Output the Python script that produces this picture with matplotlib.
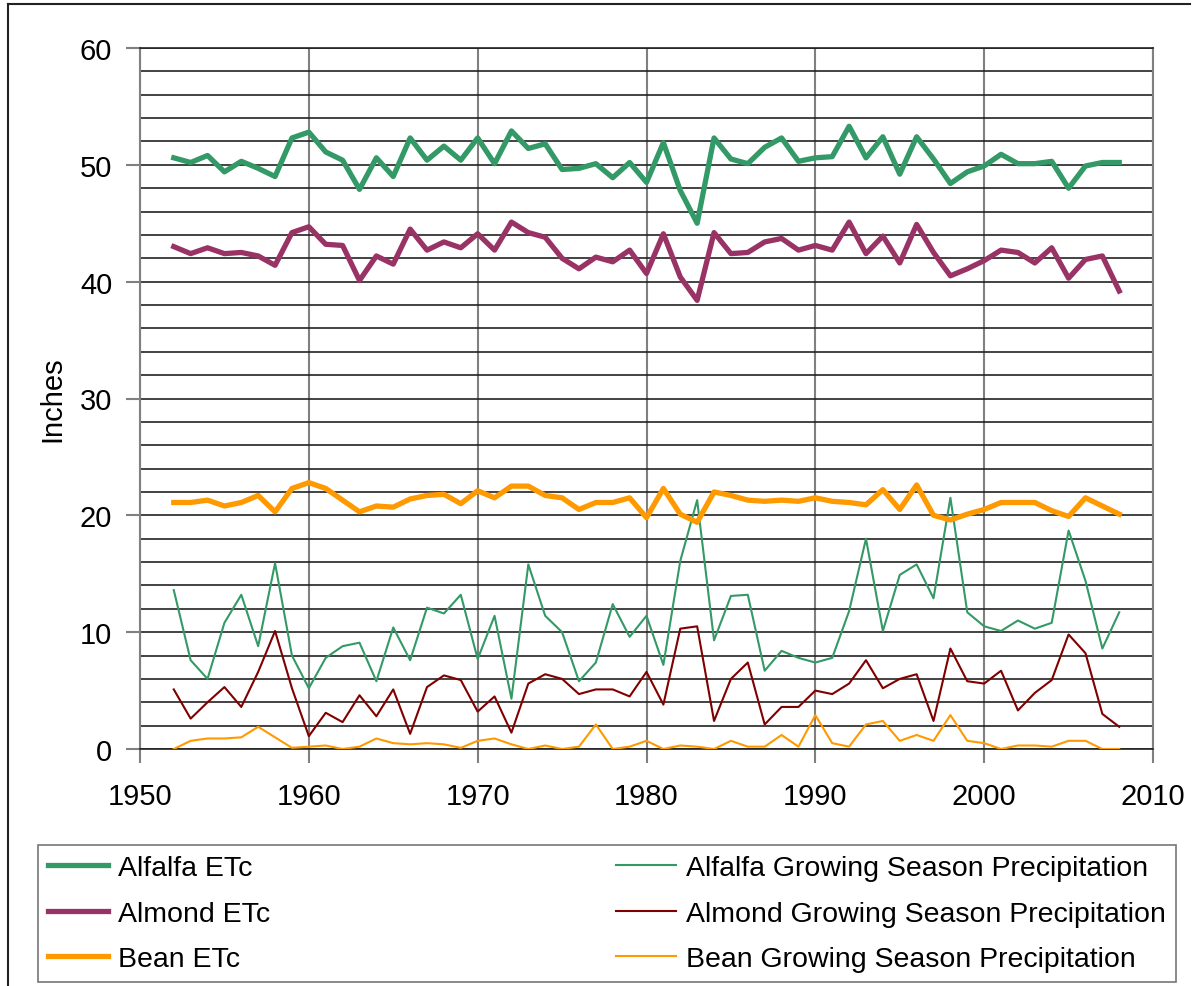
import matplotlib.pyplot as plt
import numpy as np
from matplotlib.lines import Line2D
from matplotlib.ticker import MultipleLocator

plt.rcParams['font.family'] = ['Liberation Sans', 'DejaVu Sans']

years = np.arange(1952, 2009)

alfalfa_etc = [50.6, 50.2, 50.8, 49.4, 50.3, 49.7, 49.0, 52.3, 52.8, 51.1,
               50.4, 47.9, 50.6, 49.0, 52.3, 50.4, 51.6, 50.4, 52.3, 50.1,
               52.9, 51.4, 51.8, 49.6, 49.7, 50.1, 48.9, 50.2, 48.5, 51.9,
               47.8, 45.0, 52.3, 50.5, 50.1, 51.5, 52.3, 50.3, 50.6, 50.7,
               53.3, 50.6, 52.4, 49.2, 52.4, 50.5, 48.4, 49.4, 49.9, 50.9,
               50.1, 50.1, 50.3, 48.0, 49.9, 50.2, 50.2]
almond_etc = [43.0, 42.4, 42.9, 42.4, 42.5, 42.2, 41.4, 44.2, 44.7, 43.2,
              43.1, 40.1, 42.2, 41.5, 44.5, 42.7, 43.4, 42.9, 44.1, 42.7,
              45.1, 44.2, 43.8, 42.0, 41.1, 42.1, 41.7, 42.7, 40.7, 44.1,
              40.4, 38.4, 44.2, 42.4, 42.5, 43.4, 43.7, 42.7, 43.1, 42.7,
              45.1, 42.4, 43.9, 41.6, 44.9, 42.5, 40.5, 41.1, 41.8, 42.7,
              42.5, 41.6, 42.9, 40.3, 41.9, 42.2, 39.2]
bean_etc = [21.1, 21.1, 21.3, 20.8, 21.1, 21.7, 20.3, 22.3, 22.8, 22.3,
            21.3, 20.3, 20.8, 20.7, 21.4, 21.7, 21.8, 21.0, 22.1, 21.5,
            22.5, 22.5, 21.7, 21.5, 20.5, 21.1, 21.1, 21.5, 19.8, 22.3,
            20.1, 19.4, 22.0, 21.7, 21.3, 21.2, 21.3, 21.2, 21.5, 21.2,
            21.1, 20.9, 22.2, 20.5, 22.6, 20.0, 19.6, 20.1, 20.5, 21.1,
            21.1, 21.1, 20.4, 19.9, 21.5, 20.8, 20.1]
alfalfa_precip = [13.6, 7.6, 6.0, 10.8, 13.2, 8.8, 15.9, 8.0, 5.2, 7.8,
                  8.8, 9.1, 5.8, 10.4, 7.6, 12.1, 11.6, 13.2, 7.7, 11.4,
                  4.3, 15.8, 11.4, 10.0, 5.8, 7.4, 12.4, 9.6, 11.4, 7.2,
                  16.1, 21.3, 9.3, 13.1, 13.2, 6.7, 8.4, 7.8, 7.4, 7.8,
                  11.8, 18.0, 10.1, 14.9, 15.8, 12.9, 21.5, 11.7, 10.5, 10.1,
                  11.0, 10.3, 10.8, 18.7, 14.4, 8.6, 11.7]
almond_precip = [5.1, 2.6, 4.0, 5.3, 3.6, 6.6, 10.1, 5.2, 1.1, 3.1,
                 2.3, 4.6, 2.8, 5.1, 1.3, 5.3, 6.3, 5.9, 3.2, 4.5,
                 1.4, 5.6, 6.4, 6.0, 4.7, 5.1, 5.1, 4.5, 6.6, 3.8,
                 10.3, 10.5, 2.4, 6.0, 7.4, 2.1, 3.6, 3.6, 5.0, 4.7,
                 5.6, 7.6, 5.2, 6.0, 6.4, 2.4, 8.6, 5.8, 5.6, 6.7,
                 3.3, 4.8, 5.9, 9.8, 8.2, 3.0, 1.9]
bean_precip = [0.0, 0.7, 0.9, 0.9, 1.0, 1.9, 1.0, 0.1, 0.2, 0.3,
               0.0, 0.2, 0.9, 0.5, 0.4, 0.5, 0.4, 0.1, 0.7, 0.9,
               0.4, 0.0, 0.3, 0.0, 0.2, 2.1, 0.0, 0.2, 0.7, 0.0,
               0.3, 0.2, 0.0, 0.7, 0.2, 0.2, 1.2, 0.2, 2.9, 0.5,
               0.2, 2.1, 2.4, 0.7, 1.2, 0.7, 2.9, 0.7, 0.5, 0.0,
               0.3, 0.3, 0.2, 0.7, 0.7, 0.0, 0.0]

green = '#339966'
plum = '#993366'
orange = '#ff9900'
maroon = '#800000'

fig = plt.figure(figsize=(11.98, 9.87), dpi=100)
ax = fig.add_axes([140 / 1198, 1 - 750 / 987, 1013 / 1198, 701 / 987])

ax.plot(years, alfalfa_etc, color=green, lw=3.8, label='Alfalfa ETc', zorder=5)
ax.plot(years, almond_etc, color=plum, lw=3.8, label='Almond ETc', zorder=5)
ax.plot(years, bean_etc, color=orange, lw=3.8, label='Bean ETc', zorder=5)
ax.plot(years, alfalfa_precip, color=green, lw=1.5,
        label='Alfalfa Growing Season Precipitation', zorder=4)
ax.plot(years, almond_precip, color=maroon, lw=1.5,
        label='Almond Growing Season Precipitation', zorder=4)
ax.plot(years, bean_precip, color=orange, lw=1.5,
        label='Bean Growing Season Precipitation', zorder=4)

ax.set_xlim(1950, 2010)
ax.set_ylim(0, 60)
ax.set_xticks(np.arange(1950, 2011, 10))
ax.yaxis.set_major_locator(MultipleLocator(10))
ax.yaxis.set_minor_locator(MultipleLocator(2))

# horizontal grid every 2 inches, vertical grid every decade
ax.grid(axis='y', which='both', color='#222222', lw=1.2, zorder=1)
ax.grid(axis='x', which='major', color='#808080', lw=1.5, zorder=1)
ax.set_axisbelow(True)

ax.tick_params(axis='both', which='major', direction='out', length=10,
               width=1.5, color='#808080', labelsize=21)
ax.tick_params(axis='x', pad=14)
ax.tick_params(axis='y', pad=10)
ax.tick_params(axis='y', which='minor', length=0)

for side in ['left', 'right']:
    ax.spines[side].set_color('#808080')
    ax.spines[side].set_linewidth(1.5)
for side in ['top', 'bottom']:
    ax.spines[side].set_color('#222222')
    ax.spines[side].set_linewidth(1.2)

ax.set_ylabel('Inches', fontsize=21, labelpad=10)

leg = fig.legend(loc='lower left', ncol=2, mode='expand',
                 bbox_to_anchor=(38 / 1198, 4 / 987, 1138 / 1198, 141 / 987),
                 fontsize=20.5, frameon=True, fancybox=False,
                 handlelength=2.1, handletextpad=0.35, labelspacing=0.68,
                 borderpad=0.35, borderaxespad=0)
leg.get_frame().set_edgecolor('#555555')
leg.get_frame().set_linewidth(1.2)

# outer chart frame
fig.add_artist(Line2D([8 / 1198, 8 / 1198], [0, 1 - 5 / 987],
                      transform=fig.transFigure, color='#222222', lw=1.5))
fig.add_artist(Line2D([8 / 1198, 1190 / 1198], [1 - 5 / 987, 1 - 5 / 987],
                      transform=fig.transFigure, color='#222222', lw=1.5))

plt.savefig('out.png', dpi=100)
